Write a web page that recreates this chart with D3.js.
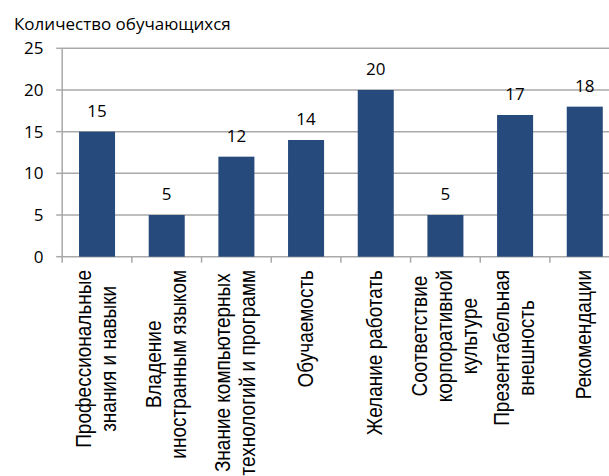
<!DOCTYPE html>
<html>
<head>
<meta charset="utf-8">
<script src="https://cdn.jsdelivr.net/npm/d3@7"></script>
<style>
    body { margin: 0; background: #fff; }
    svg { display: block; }
</style>
</head>
<body>
<div id="chart"></div>
<script>
// Количество обучающихся по критериям

const categories = [
    ['Профессиональные', 'знания и навыки'],
    ['Владение', 'иностранным языком'],
    ['Знание компьютерных', 'технологий и программ'],
    ['Обучаемость'],
    ['Желание работать'],
    ['Соответствие', 'корпоративной', 'культуре'],
    ['Презентабельная', 'внешность'],
    ['Рекомендации'],
];
const values = [15, 5, 12, 14, 20, 5, 17, 18];
const yTicks = [0, 5, 10, 15, 20, 25];
const yTitle = 'Количество обучающихся';

const width = 609;
const height = 476;
const barColor = '#264a7c';
const gridColor = '#a9a9a9';
const numFont = '"Open Sans", sans-serif';
const labelFont = '"Liberation Sans", Arial, sans-serif';

const svg = d3.select('#chart').append('svg')
        .attr('width', width)
        .attr('height', height);

const x = d3.scaleBand()
    .domain(d3.range(categories.length))
    .range([62.2, 619.6])
    .paddingInner(0.483)
    .paddingOuter(0.2415);

const y = d3.scaleLinear()
    .domain([0, 25])
    .range([256.7, 48.3]);

const step = x.step();
const left = x.range()[0];
const right = x.range()[1];

// gridlines
svg.append('g')
        .attr('class', 'grid')
    .selectAll('line').data(yTicks)
        .enter().append('line')
        .attr('x1', left)
        .attr('x2', right)
        .attr('y1', d => y(d))
        .attr('y2', d => y(d))
        .style('stroke', gridColor)
        .style('stroke-width', 1.5);

// y axis
const yAxis = svg.append('g')
    .attr('class', 'y-axis');

yAxis.append('line')
    .attr('x1', left).attr('x2', left)
    .attr('y1', y(25)).attr('y2', y(0))
    .style('stroke', gridColor)
    .style('stroke-width', 1.5);

yAxis.selectAll('.tick').data(yTicks)
        .enter().append('line')
        .attr('x1', left - 6).attr('x2', left)
        .attr('y1', d => y(d)).attr('y2', d => y(d))
        .style('stroke', gridColor)
        .style('stroke-width', 1.5);

yAxis.selectAll('text').data(yTicks)
        .enter().append('text')
        .attr('x', 43.5)
        .attr('y', d => y(d))
        .attr('dy', '0.36em')
        .attr('text-anchor', 'end')
        .style('font-family', numFont)
        .style('font-size', '17px')
        .style('fill', '#000')
        .text(d => d);

// x ticks on band edges
svg.append('g')
        .attr('class', 'x-ticks')
    .selectAll('line').data(d3.range(categories.length + 1))
        .enter().append('line')
        .attr('x1', i => left + i * step)
        .attr('x2', i => left + i * step)
        .attr('y1', y(0))
        .attr('y2', y(0) + 6)
        .style('stroke', gridColor)
        .style('stroke-width', 1.5);

// bars
svg.append('g')
        .attr('class', 'bars')
    .selectAll('rect').data(values)
        .enter().append('rect')
        .attr('x', (d, i) => x(i))
        .attr('width', x.bandwidth())
        .attr('y', d => y(d))
        .attr('height', d => y(0) - y(d))
        .style('fill', barColor);

// value labels
svg.append('g')
        .attr('class', 'values')
    .selectAll('text').data(values)
        .enter().append('text')
        .attr('x', (d, i) => x(i) + x.bandwidth() / 2)
        .attr('y', d => y(d) - 15)
        .attr('text-anchor', 'middle')
        .style('font-family', numFont)
        .style('font-size', '17px')
        .style('fill', '#000')
        .text(d => d);

// category labels, rotated (the source picture is a bit stretched sideways)
const lineGap = 22.5;
const labels = svg.append('g')
        .attr('class', 'labels')
    .selectAll('g').data(categories)
        .enter().append('g')
        .attr('transform', (d, i) => {
            const cx = x(i) + x.bandwidth() / 2 - 1;
            return `translate(${cx},270) scale(1.12,1) rotate(-90)`;
        });

labels.each(function (lines) {
    const g = d3.select(this);
    const n = lines.length;
    const nodes = lines.map((line, k) => g.append('text')
        .attr('y', (k - (n - 1) / 2) * lineGap)
        .attr('dy', '0.35em')
        .style('font-family', labelFont)
        .style('font-size', '19px')
        .style('fill', '#000')
        .text(line));
    // block is end-aligned at the axis, lines centred inside it
    const widest = d3.max(nodes, t => t.node().getComputedTextLength());
    nodes.forEach(t => {
        t.attr('x', -widest / 2).attr('text-anchor', 'middle');
    });
});

// title
svg.append('text')
    .attr('x', 14)
    .attr('y', 30)
    .style('font-family', numFont)
    .style('font-size', '17px')
    .style('fill', '#000')
    .text(yTitle);
</script>
</body>
</html>
